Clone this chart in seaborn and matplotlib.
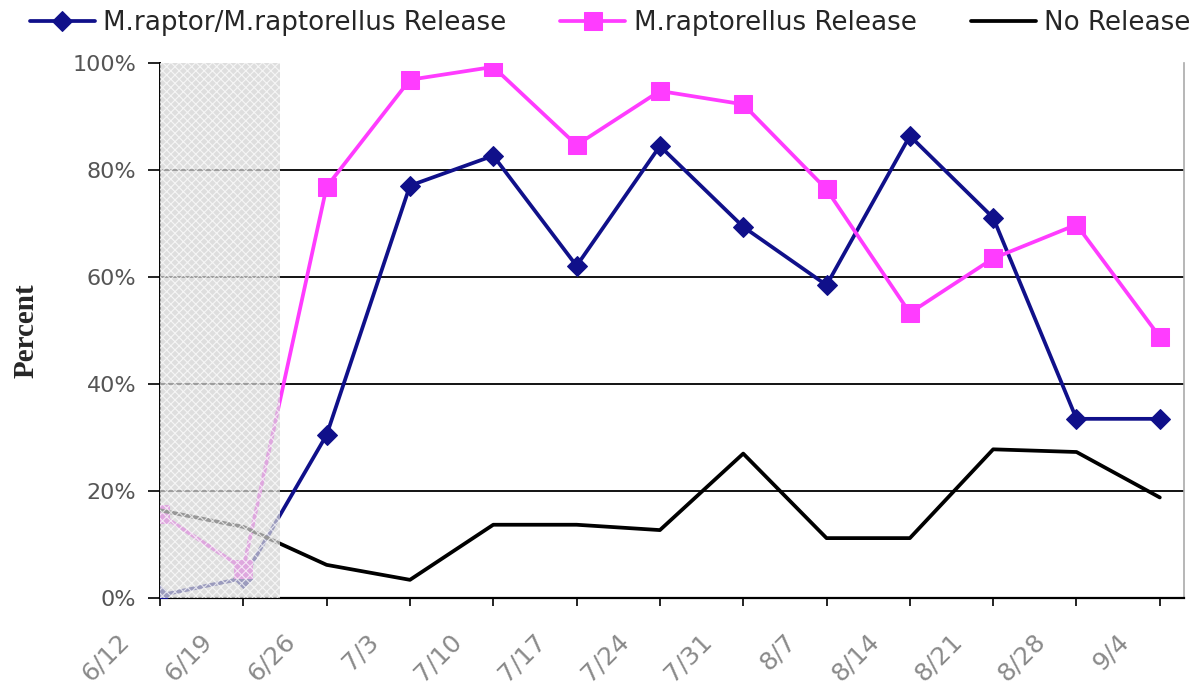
import matplotlib
matplotlib.use("Agg")
import matplotlib.pyplot as plt
import seaborn as sns
import pandas as pd
from matplotlib.ticker import FuncFormatter
from matplotlib.transforms import ScaledTranslation

# Sampling dates
dates = ["6/12", "6/19", "6/26", "7/3", "7/10", "7/17", "7/24",
         "7/31", "8/7", "8/14", "8/21", "8/28", "9/4"]

# Percent of samples per treatment
both_release = [0.5, 3.7, 30.5, 77.1, 82.7, 62.1, 84.5, 69.4, 58.5, 86.4, 71.1, 33.5, 33.5]
raptorellus_release = [15.7, 5.5, 76.9, 96.9, 99.3, 84.7, 94.8, 92.3, 76.4, 53.3, 63.5, 69.8, 48.8]
no_release = [16.4, 13.3, 6.2, 3.4, 13.7, 13.7, 12.7, 27.0, 11.2, 11.2, 27.8, 27.3, 18.8]

series_names = ["M.raptor/M.raptorellus Release", "M.raptorellus Release", "No Release"]
series_values = [both_release, raptorellus_release, no_release]

# Pre-release window shaded on the chart (in date-index units)
shade_start, shade_end = 0, 1.44

colors = {"M.raptor/M.raptorellus Release": "#10108a",
          "M.raptorellus Release": "#ff3cff",
          "No Release": "#000000"}
markers = {"M.raptor/M.raptorellus Release": "D",
           "M.raptorellus Release": "s",
           "No Release": ""}
msizes = {"M.raptor/M.raptorellus Release": 10.5,
          "M.raptorellus Release": 12.5,
          "No Release": 0}

rows = []
for name, vals in zip(series_names, series_values):
    for i, (d, v) in enumerate(zip(dates, vals)):
        rows.append({"idx": i, "date": d, "value": v, "series": name})
df = pd.DataFrame(rows)

sns.set_theme(style="white")
plt.rcParams["font.family"] = ["DejaVu Sans"]
plt.rcParams["hatch.color"] = "white"
plt.rcParams["hatch.linewidth"] = 0.8

fig = plt.figure(figsize=(11.94, 6.94), dpi=100)
ax = fig.add_axes([0.134, 0.1383, 0.8576, 0.7707])

for name in series_names:
    sub = df[df["series"] == name]
    sns.lineplot(data=sub, x="idx", y="value", ax=ax, color=colors[name],
                 linewidth=2.7, marker=markers[name] if markers[name] else None,
                 markersize=msizes[name], markeredgecolor=colors[name],
                 label=name, zorder=3)

# Horizontal gridlines
for yv in [20, 40, 60, 80]:
    ax.axhline(yv, color="black", linewidth=1.3, zorder=1)

# Stippled pre-release shading laid over the data
ax.axvspan(shade_start, shade_end, facecolor="#d2d2d2", alpha=0.72,
           hatch="xxxx", edgecolor="white", linewidth=0, zorder=4)

ax.set_xlim(0, 12.29)
ax.set_ylim(0, 100)
ax.tick_params(axis="x", direction="out", length=6, width=1.2, color="black",
               bottom=True, pad=8)
ax.tick_params(axis="y", direction="out", length=9, width=1.2, color="black",
               left=True, pad=8)

ax.set_xticks(range(len(dates)))
ax.set_xticklabels(dates, rotation=45, ha="right", va="center",
                   rotation_mode="anchor", fontsize=18, color="#8a8a8a")
# Nudge the slanted date labels down and to the left of their ticks
shift = ScaledTranslation(-35 / 100, -20 / 100, fig.dpi_scale_trans)
for lbl in ax.get_xticklabels():
    lbl.set_transform(lbl.get_transform() + shift)

ax.set_yticks([0, 20, 40, 60, 80, 100])
ax.yaxis.set_major_formatter(FuncFormatter(lambda v, p: f"{int(v)}%"))
for lbl in ax.get_yticklabels():
    lbl.set_fontsize(16)
    lbl.set_color("#555555")

ax.set_xlabel("")
ax.set_ylabel("Percent", fontsize=21, fontweight="bold",
              family=["Liberation Serif", "DejaVu Serif"], labelpad=24)

ax.spines["top"].set_visible(False)
ax.spines["left"].set_color("black")
ax.spines["left"].set_linewidth(1.4)
ax.spines["bottom"].set_color("black")
ax.spines["bottom"].set_linewidth(1.6)
ax.spines["right"].set_color("#aaaaaa")
ax.spines["right"].set_linewidth(1.2)

handles, labels = ax.get_legend_handles_labels()
ax.get_legend().remove()
fig.legend(handles, labels, loc="upper left", bbox_to_anchor=(0.016, 1.0),
           ncol=3, frameon=False, fontsize=18.8, handlelength=2.5,
           handletextpad=0.33, columnspacing=2.05, borderaxespad=0.0)

fig.savefig("out.png", dpi=100)
